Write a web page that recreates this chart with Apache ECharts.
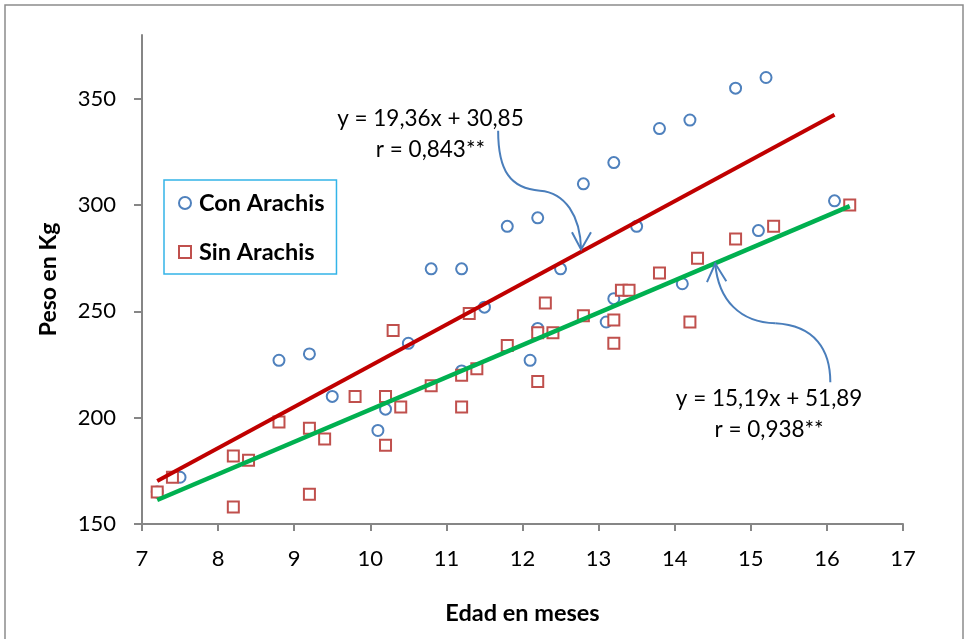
<!DOCTYPE html>
<html><head><meta charset="utf-8">
<script src="https://cdn.jsdelivr.net/npm/echarts@6/dist/echarts.min.js"></script>
<style>html,body{margin:0;padding:0;background:#fff}#c{width:967px;height:639px}</style>
</head><body><div id="c"></div>
<script>
// ---- data ----
const conEdad = [7.2,7.5,8.8,9.2,9.5,10.1,10.2,10.5,10.8,11.2,11.2,11.5,11.8,12.1,12.2,12.2,12.5,12.8,13.1,13.2,13.2,13.5,13.8,14.1,14.2,14.8,15.1,15.2,16.1];
const conPeso = [165,172,227,230,210,194,204,235,270,270,222,252,290,227,242,294,270,310,245,256,320,290,336,263,340,355,288,360,302];
const sinEdad = [7.2,7.4,8.2,8.2,8.4,8.8,9.2,9.2,9.4,9.8,10.2,10.2,10.3,10.4,10.8,11.2,11.2,11.3,11.4,11.8,12.2,12.2,12.3,12.4,12.8,13.2,13.2,13.3,13.4,13.8,14.2,14.3,14.8,15.3,16.3];
const sinPeso = [165,172,182,158,180,198,195,164,190,210,210,187,241,205,215,220,205,249,223,234,240,217,254,240,248,246,235,260,260,268,245,275,284,290,300];
const trendConEdad = [7.2, 16.1];
const trendConPeso = [170.2, 342.5];
const trendSinEdad = [7.2, 16.3];
const trendSinPeso = [161.3, 299.5];
const xTicks = [7,8,9,10,11,12,13,14,15,16,17];
const yTicks = [150,200,250,300,350];
const seriesNames = ['Con Arachis','Sin Arachis'];
const eqCon = ['y = 19,36x + 30,85','r = 0,843**'];
const eqSin = ['y = 15,19x + 51,89','r = 0,938**'];

// annotation anchors in data units
const eqConPos = [10.79, 333.3];
const eqSinPos = [15.24, 201.6];
const arrowCon = [[11.68,335.0],[11.68,316.2],[11.84,307.7],[12.23,306.8],[12.56,305.9],[12.76,295.0],[12.77,279.1]];
const arrowConHead = [[12.65,287.2],[12.77,279.1],[12.90,287.2]];
const arrowSin = [[14.533,272.5],[14.573,255.2],[14.862,244.8],[15.322,244.4],[15.848,243.4],[16.045,231.7],[16.045,216.7]];
const arrowSinHead = [[14.424,263.8],[14.533,272.5],[14.678,264.2]];

const zip = (a,b) => a.map((v,i)=>[v,b[i]]);
const FONT = 'Lato, "Open Sans", sans-serif';
const AXIS_COL = '#868686';

const chart = echarts.init(document.getElementById('c'), null, {renderer:'canvas'});
const option = {
  animation: false,
  backgroundColor: '#fff',
  grid: {left: 142, right: 64, top: 35, bottom: 115},
  xAxis: {
    type: 'value', min: xTicks[0], max: xTicks[xTicks.length-1], interval: 1,
    name: 'Edad en meses', nameLocation: 'middle', nameGap: 77,
    nameTextStyle: {fontFamily: FONT, fontWeight: 'bold', fontSize: 23.5, color: '#000'},
    axisLine: {show: true, onZero: false, lineStyle: {color: AXIS_COL, width: 2}},
    axisTick: {show: true, inside: false, length: 7, lineStyle: {color: AXIS_COL, width: 2}},
    axisLabel: {fontFamily: FONT, fontSize: 22, color: '#000', margin: 24},
    splitLine: {show: false}
  },
  yAxis: {
    type: 'value', min: 150, max: 380, interval: 50,
    name: 'Peso en Kg', nameLocation: 'middle', nameGap: 82, nameRotate: 90,
    nameTextStyle: {fontFamily: FONT, fontWeight: 'bold', fontSize: 23, color: '#000'},
    axisLine: {show: true, onZero: false, lineStyle: {color: AXIS_COL, width: 2}},
    axisTick: {show: true, inside: false, length: 8, customValues: yTicks, lineStyle: {color: AXIS_COL, width: 2}},
    axisLabel: {fontFamily: FONT, fontSize: 22, color: '#000', margin: 26, customValues: yTicks},
    splitLine: {show: false}
  },
  legend: {
    data: seriesNames, orient: 'vertical', left: 164, top: 180,
    itemWidth: 12, itemHeight: 12, itemGap: 25,
    padding: [11, 12, 10, 14],
    borderColor: '#33B4E8', borderWidth: 1.5, backgroundColor: '#fff',
    textStyle: {fontFamily: FONT, fontWeight: 'bold', fontSize: 23.5, color: '#000', padding: [0,0,0,3]}
  },
  series: [
    {name: seriesNames[0], type: 'scatter', symbol: 'circle', symbolSize: 11, z: 3,
     itemStyle: {color: '#fff', borderColor: '#4F81BD', borderWidth: 2, opacity: 1},
     data: zip(conEdad, conPeso)},
    {name: seriesNames[1], type: 'scatter', symbol: 'rect', symbolSize: 11, z: 3,
     itemStyle: {color: '#fff', borderColor: '#C0504D', borderWidth: 2, opacity: 1},
     data: zip(sinEdad, sinPeso)},
    {name: 'trendCon', type: 'line', symbol: 'none', z: 5, silent: true,
     lineStyle: {color: '#C00000', width: 4}, data: zip(trendConEdad, trendConPeso)},
    {name: 'trendSin', type: 'line', symbol: 'none', z: 5, silent: true,
     lineStyle: {color: '#00B050', width: 4.5}, data: zip(trendSinEdad, trendSinPeso)}
  ]
};
chart.setOption(option);

const P = (p) => chart.convertToPixel({xAxisIndex:0, yAxisIndex:0}, p);
function bez(pts){
  const out = [];
  for (let i=0; i+3 < pts.length; i+=3){
    const a=P(pts[i]), b=P(pts[i+1]), c=P(pts[i+2]), d=P(pts[i+3]);
    out.push({type:'bezierCurve', z: 10, shape:{x1:a[0],y1:a[1],cpx1:b[0],cpy1:b[1],cpx2:c[0],cpy2:c[1],x2:d[0],y2:d[1]},
      style:{stroke:'#4A7EBB', lineWidth:2, fill:null}});
  }
  return out;
}
function head(pts){
  return {type:'polyline', z: 10, shape:{points: pts.map(P)}, style:{stroke:'#4A7EBB', lineWidth:2, fill:null}};
}
function eq(lines, pos){
  const p = P(pos);
  return {type:'text', z: 10, x: p[0], y: p[1], style:{text: lines.join('\n'), align:'center', verticalAlign:'middle',
    fontFamily: FONT, fontSize: 22.5, lineHeight: 31, fill:'#000'}};
}
chart.setOption({graphic: [
  {type:'rect', z: 0, shape:{x:5, y:5, width:958, height:660}, style:{fill:null, stroke:'#8C8C8C', lineWidth:1.5}},
  ...bez(arrowCon), head(arrowConHead),
  ...bez(arrowSin), head(arrowSinHead),
  eq(eqCon, eqConPos), eq(eqSin, eqSinPos)
]});
</script></body></html>
